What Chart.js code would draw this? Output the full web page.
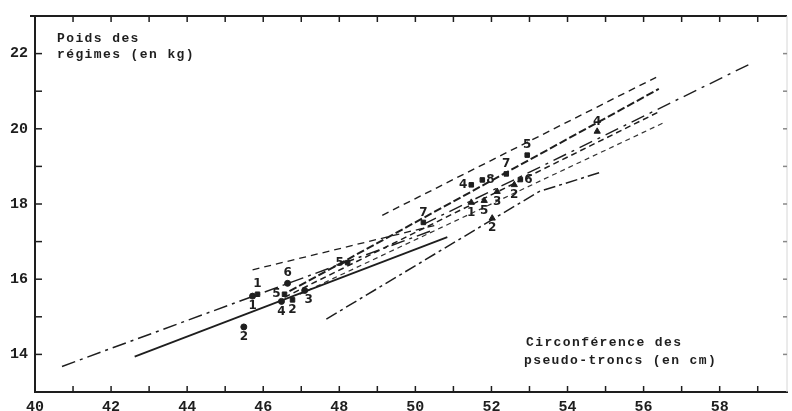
<!DOCTYPE html>
<html><head><meta charset="utf-8">
<script src="https://cdn.jsdelivr.net/npm/chart.js@4/dist/chart.umd.min.js"></script>
<style>html,body{margin:0;padding:0;background:#fff}#wrap{width:792px;height:411px}</style>
</head><body><div id="wrap"><canvas id="c" width="792" height="411"></canvas></div>
<script>
// ---- axis ranges / tick labels ----
const xTickLabels = [40, 42, 44, 46, 48, 50, 52, 54, 56, 58];
const yTickLabels = [14, 16, 18, 20, 22];
const xRange = [40, 59.77];
const yRange = [13, 23];
const yTitle = ["Poids des", "régimes (en kg)"];
const xTitle = ["Circonférence des", "pseudo-troncs (en cm)"];

// ---- points (circonférence cm, poids kg, number label) ----
const circX = [45.72, 45.49, 46.64, 46.48, 47.09];
const circY = [15.55, 14.73, 15.89, 15.41, 15.70];
const circLbl = ["1", "2", "6", "4", "3"];
const circPos = ["b", "b", "a", "b", "br"];

const sqX = [45.85, 46.56, 46.77, 48.22, 50.21, 51.47, 51.76, 52.39, 52.94, 52.76];
const sqY = [15.60, 15.60, 15.45, 16.44, 17.51, 18.51, 18.64, 18.80, 19.30, 18.65];
const sqLbl = ["1", "5", "2", "5", "7", "4", "8", "7", "5", "6"];
const sqPos = ["a", "l", "b", "l", "a", "l", "r", "a", "a", "r"];

const triX = [52.60, 52.15, 51.81, 51.47, 52.02, 54.78];
const triY = [18.51, 18.33, 18.09, 18.04, 17.62, 19.93];
const triLbl = ["2", "3", "5", "1", "2", "4"];
const triPos = ["b", "b", "b", "b", "b", "a"];

// ---- regression lines (x list, y list) ----
const lineSolidX = [42.62, 50.84];   const lineSolidY = [13.94, 17.12];
const lineLongX  = [40.71, 50.40];   const lineLongY  = [13.68, 17.28];
const lineCX     = [45.72, 50.63];   const lineCY     = [16.25, 17.46];
const line1X     = [49.13, 56.33];   const line1Y     = [17.70, 21.37];
const line2X     = [46.69, 56.40];   const line2Y     = [15.68, 21.06];
const line3X     = [50.21, 58.77];   const line3Y     = [17.46, 21.71];
const line4X     = [46.56, 56.40];   const line4Y     = [15.52, 20.45];
const line5X     = [46.96, 56.59];   const line5Y     = [15.60, 20.19];
const line6X     = [47.66, 53.25, 54.83]; const line6Y = [14.94, 18.33, 18.83];

const pts = (xs, ys) => xs.map((x, i) => ({x, y: ys[i]}));
const INK = '#1e1e1e';
const FONT = '"Liberation Mono", "DejaVu Sans Mono", monospace';

function lineDs(xs, ys, dash, w, col) {
  return {type: 'line', data: pts(xs, ys), borderColor: col || INK, borderWidth: w || 1.4,
    borderDash: dash, pointRadius: 0, fill: false, tension: 0, order: 2};
}
function markDs(xs, ys, style, lbls, pos, r) {
  return {type: 'scatter', data: pts(xs, ys), pointStyle: style, pointRadius: r || 3,
    backgroundColor: INK, borderColor: INK, borderWidth: 1, lbls, pos, order: 1};
}

const DASHDOT = [12, 4, 3, 4];
const DASH = [6, 4];

const datasets = [
  lineDs(lineSolidX, lineSolidY, [], 1.8),
  lineDs(lineLongX, lineLongY, [14, 5, 3, 5], 1.5),
  lineDs(lineCX, lineCY, [7, 5], 1.3),
  lineDs(line1X, line1Y, [7, 5], 1.4),
  lineDs(line2X, line2Y, [8, 3], 2.0),
  lineDs(line3X, line3Y, [14, 6, 3, 6], 1.4),
  lineDs(line4X, line4Y, DASH, 1.5),
  lineDs(line5X, line5Y, [5, 4], 1.2, '#333'),
  lineDs(line6X, line6Y, DASHDOT, 1.5),
  markDs(circX, circY, 'circle', circLbl, circPos, 3),
  markDs(sqX, sqY, 'rect', sqLbl, sqPos, 3.2),
  markDs(triX, triY, 'triangle', triLbl, triPos, 3.6),
];

const framePlugin = {
  id: 'frame',
  beforeDraw(chart) {
    const c = chart.ctx; c.save(); c.fillStyle = '#fff';
    c.fillRect(0, 0, chart.width, chart.height); c.restore();
  },
  afterDraw(chart) {
    const c = chart.ctx, a = chart.chartArea, xs = chart.scales.x, ys = chart.scales.y;
    c.save();
    // top and right frame
    c.strokeStyle = INK; c.lineWidth = 1.8;
    c.beginPath(); c.moveTo(a.left - 5, a.top); c.lineTo(a.right, a.top); c.stroke();
    c.strokeStyle = '#d6d6d6'; c.lineWidth = 1;
    c.beginPath(); c.moveTo(a.right, a.top); c.lineTo(a.right, a.bottom); c.stroke();
    // inward ticks
    c.strokeStyle = INK; c.lineWidth = 1.5;
    for (let v = Math.ceil(xRange[0]); v <= xRange[1]; v++) {
      const p = xs.getPixelForValue(v);
      c.beginPath(); c.moveTo(p, a.bottom); c.lineTo(p, a.bottom - 6); c.stroke();
      c.beginPath(); c.moveTo(p, a.top); c.lineTo(p, a.top + 6); c.stroke();
    }
    for (let v = yRange[0] + 1; v < yRange[1]; v++) {
      const p = ys.getPixelForValue(v);
      c.strokeStyle = INK;
      c.beginPath(); c.moveTo(a.left, p); c.lineTo(a.left + 7, p); c.stroke();
      c.strokeStyle = '#888';
      c.beginPath(); c.moveTo(a.right, p); c.lineTo(a.right - 4, p); c.stroke();
    }
    // axis titles
    c.fillStyle = INK; c.font = 'bold 13px ' + FONT; c.textBaseline = 'middle'; c.textAlign = 'left';
    try { c.letterSpacing = '1.4px'; } catch (e) {}
    c.fillText(yTitle[0], a.left + 22, 39);
    c.fillText(yTitle[1], a.left + 22, 55);
    c.fillText(xTitle[0], 526, 343);
    c.fillText(xTitle[1], 524, 361);
    try { c.letterSpacing = '0px'; } catch (e) {}
    // point number labels
    c.font = 'bold 12px "DejaVu Sans", sans-serif'; c.textAlign = 'center';
    chart.data.datasets.forEach((ds, di) => {
      if (!ds.lbls) return;
      chart.getDatasetMeta(di).data.forEach((el, i) => {
        const p = ds.pos[i];
        let dx = 0, dy = 0;
        if (p === 'a') dy = -10; else if (p === 'b') dy = 10;
        else if (p === 'l') dx = -8; else if (p === 'r') dx = 8;
        else if (p === 'br') { dx = 4; dy = 9; }
        c.fillText(ds.lbls[i], el.x + dx, el.y + dy);
      });
    });
    c.restore();
  }
};

new Chart(document.getElementById('c'), {
  data: {datasets},
  options: {
    responsive: false, animation: false,
    layout: {padding: {top: 11, right: 4, left: 0, bottom: 0}},
    plugins: {legend: {display: false}, tooltip: {enabled: false}},
    scales: {
      x: {type: 'linear', min: xRange[0], max: xRange[1],
        afterFit: s => { s.height = 19; },
        afterBuildTicks: s => { s.ticks = xTickLabels.map(v => ({value: v})); },
        grid: {display: false, drawTicks: false},
        border: {display: true, color: INK, width: 2},
        ticks: {padding: 6, color: INK, font: {family: FONT, size: 15, weight: 'bold'},
          maxRotation: 0, autoSkip: false, callback: v => String(v)}},
      y: {type: 'linear', min: yRange[0], max: yRange[1],
        afterFit: s => { s.width = 35; },
        afterBuildTicks: s => { s.ticks = yTickLabels.map(v => ({value: v})); },
        grid: {display: false, drawTicks: false},
        border: {display: true, color: INK, width: 2},
        ticks: {padding: 7, color: INK, font: {family: FONT, size: 15, weight: 'bold'},
          autoSkip: false, callback: v => String(v)}}
    }
  },
  plugins: [framePlugin]
});
</script></body></html>
